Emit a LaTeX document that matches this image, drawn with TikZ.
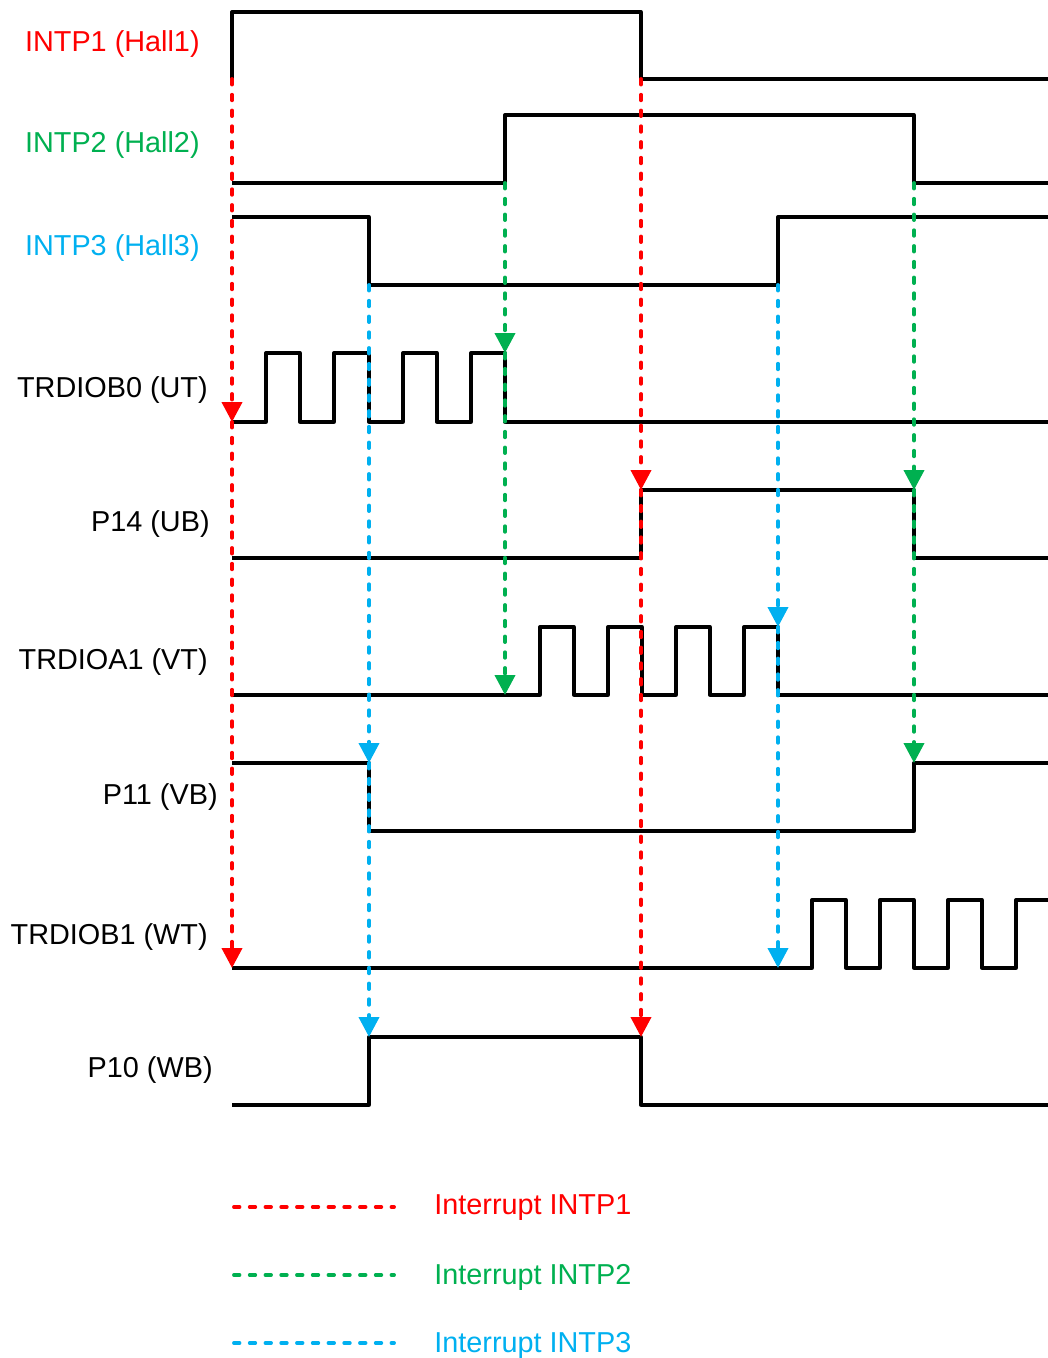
\documentclass[tikz,border=0pt]{standalone}
\usepackage{fontspec}
\setmainfont{Liberation Sans}
\usetikzlibrary{arrows.meta,positioning}
\definecolor{hallred}{RGB}{255,0,0}
\definecolor{hallgreen}{RGB}{0,176,80}
\definecolor{hallblue}{RGB}{0,176,240}

\begin{document}
\begin{tikzpicture}[x=0.2mm, y=-0.2mm,
    wave/.style={line width=0.66mm, line join=round},
    irq/.style={line width=0.78mm, line cap=round, dash pattern=on 1.1mm off 2.05mm},
    irqarrow/.style={irq, -{Triangle[width=4mm,length=4mm]}},
    sig/.style={anchor=east, inner sep=0pt, font=\fontsize{16.4}{19}\selectfont},
    legtext/.style={anchor=west, inner sep=0pt, font=\fontsize{16.4}{19}\selectfont}]
    \useasboundingbox (0,0) rectangle (1048,1358);

    % Signal names
    \node[sig, hallred] (hall1) at (200,44) {INTP1 (Hall1)};
    \node[sig, hallgreen] (hall2) at (200,145) {INTP2 (Hall2)};
    \node[sig, hallblue] (hall3) at (200,248) {INTP3 (Hall3)};
    \node[sig] (ut) at (208,390) {TRDIOB0 (UT)};
    \node[sig] (ub) at (210,524) {P14 (UB)};
    \node[sig] (vt) at (208,662) {TRDIOA1 (VT)};
    \node[sig] (vb) at (218,797) {P11 (VB)};
    \node[sig] (wt) at (208,937) {TRDIOB1 (WT)};
    \node[sig] (wb) at (213,1070) {P10 (WB)};

    % Waveforms
    \draw[wave] (232,79) -- (232,12) -- (641,12) -- (641,79) -- (1048,79);
    \draw[wave] (232,183) -- (505,183) -- (505,115) -- (914,115) -- (914,183) -- (1048,183);
    \draw[wave] (232,217) -- (369,217) -- (369,285) -- (778,285) -- (778,217) -- (1048,217);
    \draw[wave] (232,422) -- (266,422) -- (266,353) -- (300,353) -- (300,422) -- (334,422) -- (334,353)
        -- (369,353) -- (369,422) -- (403,422) -- (403,353) -- (437,353) -- (437,422) -- (471,422)
        -- (471,353) -- (505,353) -- (505,422) -- (1048,422);
    \draw[wave] (232,558) -- (641,558) -- (641,490) -- (914,490) -- (914,558) -- (1048,558);
    \draw[wave] (232,695) -- (540,695) -- (540,627) -- (574,627) -- (574,695) -- (608,695) -- (608,627)
        -- (642,627) -- (642,695) -- (676,695) -- (676,627) -- (710,627) -- (710,695) -- (744,695)
        -- (744,627) -- (778,627) -- (778,695) -- (1048,695);
    \draw[wave] (232,763) -- (369,763) -- (369,831) -- (914,831) -- (914,763) -- (1048,763);
    \draw[wave] (232,968) -- (812,968) -- (812,900) -- (846,900) -- (846,968) -- (880,968) -- (880,900)
        -- (914,900) -- (914,968) -- (948,968) -- (948,900) -- (982,900) -- (982,968) -- (1016,968)
        -- (1016,900) -- (1048,900);
    \draw[wave] (232,1105) -- (369,1105) -- (369,1037) -- (641,1037) -- (641,1105) -- (1048,1105);

    % Edges
    \coordinate (h1rise) at (232,79);
    \coordinate (h1fall) at (641,79);
    \coordinate (h2rise) at (505,183);
    \coordinate (h2fall) at (914,183);
    \coordinate (h3fall) at (369,285);
    \coordinate (h3rise) at (778,285);
    \coordinate (utstart) at (232,422);
    \coordinate (utstop) at (505,353);
    \coordinate (ubon) at (641,490);
    \coordinate (uboff) at (914,490);
    \coordinate (vtstart) at (505,695);
    \coordinate (vtstop) at (778,627);
    \coordinate (vbon) at (914,763);
    \coordinate (vboff) at (369,763);
    \coordinate (wtstart) at (778,968);
    \coordinate (wtstop) at (232,968);
    \coordinate (wbon) at (369,1037);
    \coordinate (wboff) at (641,1037);

    % Interrupts
    \draw[irqarrow, hallred] (h1rise) -- (utstart);
    \draw[irqarrow, hallred] (utstart) -- (wtstop);
    \draw[irqarrow, hallred] (h1fall) -- (ubon);
    \draw[irqarrow, hallred] (ubon) -- (wboff);
    \draw[irqarrow, hallgreen] (h2rise) -- (utstop);
    \draw[irqarrow, hallgreen] (utstop) -- (vtstart);
    \draw[irqarrow, hallgreen] (h2fall) -- (uboff);
    \draw[irqarrow, hallgreen] (uboff) -- (vbon);
    \draw[irqarrow, hallblue] (h3fall) -- (vboff);
    \draw[irqarrow, hallblue] (vboff) -- (wbon);
    \draw[irqarrow, hallblue] (h3rise) -- (vtstop);
    \draw[irqarrow, hallblue] (vtstop) -- (wtstart);

    % Legend
    \coordinate (leg1) at (234,1207);
    \coordinate (leg2) at (234,1275);
    \coordinate (leg3) at (234,1343);
    \node[legtext, hallred] (leg1txt) at (434,1208) {Interrupt INTP1};
    \node[legtext, hallgreen] (leg2txt) at (434,1277) {Interrupt INTP2};
    \node[legtext, hallblue] (leg3txt) at (434,1345) {Interrupt INTP3};
    \draw[irq, hallred] (leg1) -- ++(160,0);
    \draw[irq, hallgreen] (leg2) -- ++(160,0);
    \draw[irq, hallblue] (leg3) -- ++(160,0);
\end{tikzpicture}
\end{document}
